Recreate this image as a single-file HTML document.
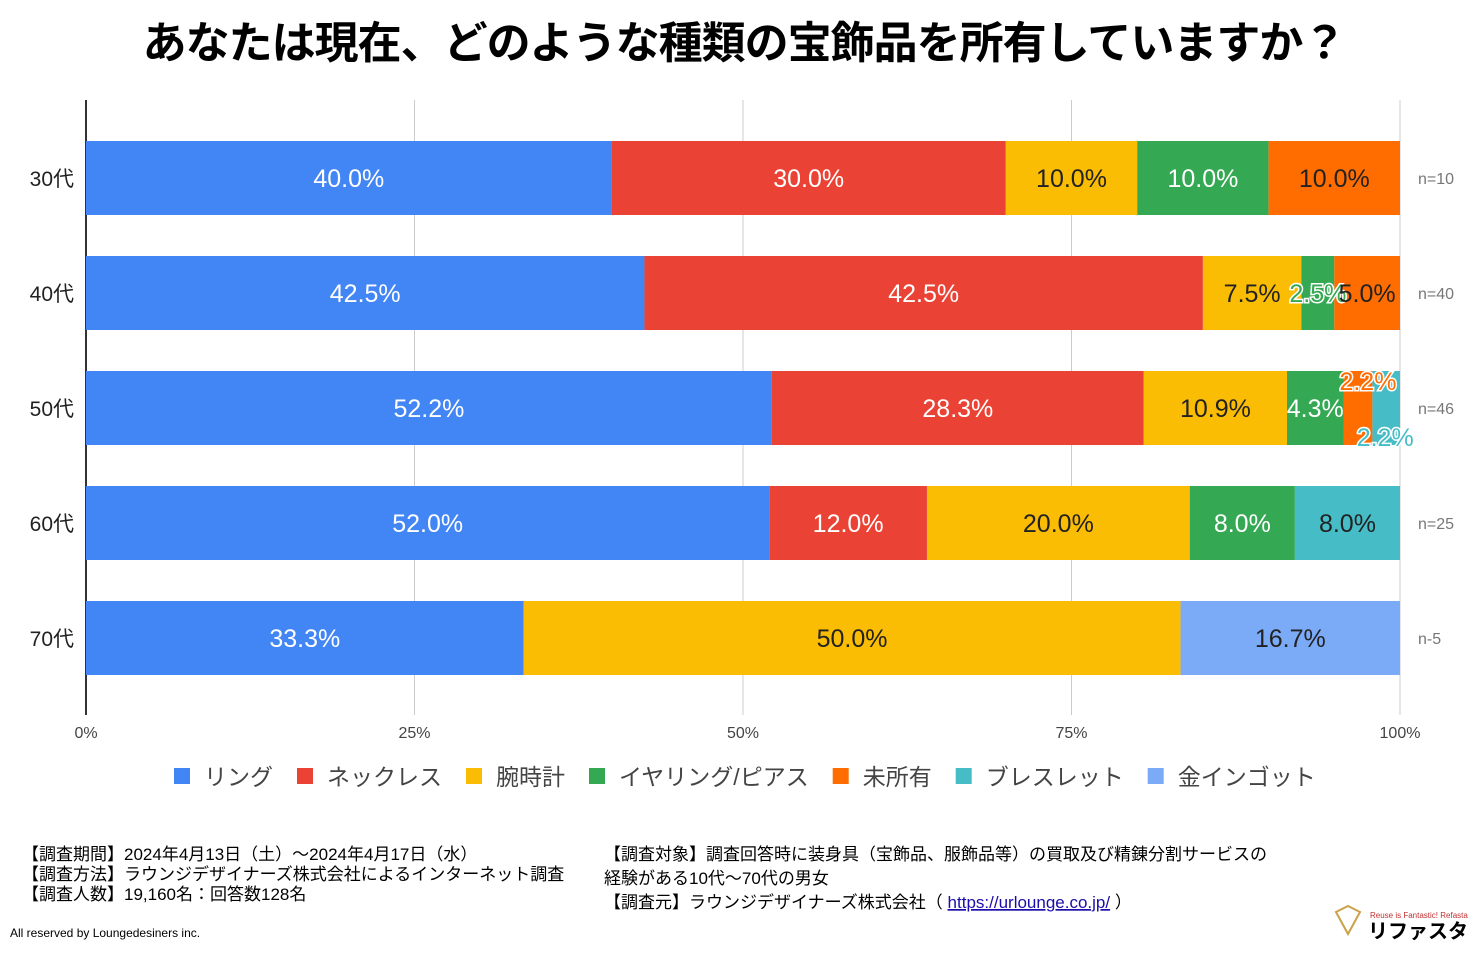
<!DOCTYPE html>
<html><head><meta charset="utf-8">
<style>
body{margin:0;background:#fff;font-family:"Liberation Sans","Noto Sans CJK JP",sans-serif;}
svg text{font-family:"Liberation Sans","Noto Sans CJK JP",sans-serif;}
.ft{font-family:"Liberation Sans","Noto Sans CJK JP",sans-serif;font-size:17px;fill:#000}
</style></head>
<body>
<svg id="c" width="1484" height="949" xmlns="http://www.w3.org/2000/svg">
<text x="744" y="58" text-anchor="middle" font-size="44" font-weight="bold" fill="#000" letter-spacing="-1">あなたは現在、どのような種類の宝飾品を所有していますか？</text>
<g id="grid"></g>
<g id="bars"></g>
<g id="labels"></g>
<g id="legend"></g>
<g>
<text class="ft" x="22" y="860">【調査期間】2024年4月13日（土）～2024年4月17日（水）</text>
<text class="ft" x="22" y="880">【調査方法】ラウンジデザイナーズ株式会社によるインターネット調査</text>
<text class="ft" x="22" y="900">【調査人数】19,160名：回答数128名</text>
<text x="10" y="937" font-size="12" font-family="Liberation Mono,monospace" fill="#000">All reserved by Loungedesiners inc.</text>
</g>
<g>
<text class="ft" x="604" y="860">【調査対象】調査回答時に装身具（宝飾品、服飾品等）の買取及び精錬分割サービスの</text>
<text class="ft" x="604" y="884">経験がある10代～70代の男女</text>
<text class="ft" x="604" y="908">【調査元】ラウンジデザイナーズ株式会社（ <tspan fill="#1a0dab" text-decoration="underline">https://urlounge.co.jp/</tspan> ）</text>
</g>
<g>
<path d="M1336 912 l12 -6 l12 6 l-12 22 z" fill="none" stroke="#c9a24a" stroke-width="2"/>
<text x="1370" y="918" font-size="8" fill="#c03030">Reuse is Fantastic! Refasta</text>
<text x="1368" y="938" font-size="20" font-weight="bold" fill="#000">リファスタ</text>
</g>
</svg>
<script>
const categories=["30代","40代","50代","60代","70代"];
const nLabels=["n=10","n=40","n=46","n=25","n-5"];
const seriesNames=["リング","ネックレス","腕時計","イヤリング/ピアス","未所有","ブレスレット","金インゴット"];
const ring=[40.0,42.5,52.2,52.0,33.3];
const necklace=[30.0,42.5,28.3,12.0,0];
const watch=[10.0,7.5,10.9,20.0,50.0];
const earring=[10.0,2.5,4.3,8.0,0];
const none=[10.0,5.0,2.2,0,0];
const bracelet=[0,0,2.2,8.0,0];
const ingot=[0,0,0,0,16.7];
const ticks=[0,25,50,75,100];
const series=[ring,necklace,watch,earring,none,bracelet,ingot];
const colors=["#4285f4","#ea4335","#fbbc04","#34a853","#ff6d01","#46bdc6","#7baaf7"];
const txtCol=["#fff","#fff","#222","#fff","#222","#222","#222"];
const NS="http://www.w3.org/2000/svg";
const x0=86,x1=1400,top0=100,bot=715;
const xs=v=>x0+v/100*(x1-x0);
const yc=i=>178+115*i;
function mk(t,a,p){const e=document.createElementNS(NS,t);for(const k in a)e.setAttribute(k,a[k]);p.appendChild(e);return e;}
const grid=document.getElementById('grid'),bars=document.getElementById('bars'),labs=document.getElementById('labels'),leg=document.getElementById('legend');
ticks.forEach(t=>{
 const l=mk('line',{x1:xs(t),x2:xs(t),y1:top0,y2:bot,stroke:t==0?'#333':'#ccc','stroke-width':t==0?2:1},grid);
 
 
 const tx=mk('text',{x:xs(t),y:738,'text-anchor':'middle','font-size':16,fill:'#444'},grid);
 tx.textContent=t+'%';
 
 
});
categories.forEach((c,i)=>{
 const cy=yc(i),h=74;
 const lab=mk('text',{x:74,y:cy+8,'text-anchor':'end','font-size':21,fill:'#222'},bars);
 lab.textContent=c;
 
 
 const nl=mk('text',{x:1418,y:cy+6,'font-size':16,fill:'#777'},bars);
 nl.textContent=nLabels[i];
 
 
 let acc=0;
 series.forEach((s,j)=>{
  const v=s[i]; if(!v) return;
  const a=xs(acc),b=Math.min(xs(acc+v),x1);
  const r=mk('rect',{x:a,y:cy-h/2,width:b-a,height:h,fill:colors[j]},bars);
  
  
  const small=(b-a)<50;
  let ty=cy+9,tx=(a+b)/2;
  if(small&&i==2){ if(j==4){ty=cy-18;tx+=10;} else if(j==5){ty=cy+38;tx-=1;} }
  const t=mk('text',{x:tx,y:ty,'text-anchor':'middle','font-size':25,fill:small?colors[j]:txtCol[j]},labs);
  if(small){t.setAttribute('stroke','#fff');t.setAttribute('stroke-width','3');t.setAttribute('paint-order','stroke');}
  t.textContent=v.toFixed(1)+'%';
  
  
  acc+=v;
 });
});
let lx=174;
seriesNames.forEach((n,j)=>{
 const r=mk('rect',{x:lx,y:768,width:16,height:16,fill:colors[j]},leg);
 
 
 const t=mk('text',{x:lx+30,y:785,'font-size':23,fill:'#444'},leg);
 t.textContent=n;
 
 
 lx+=30+t.getComputedTextLength()+24;
});
</script>
</body></html>
